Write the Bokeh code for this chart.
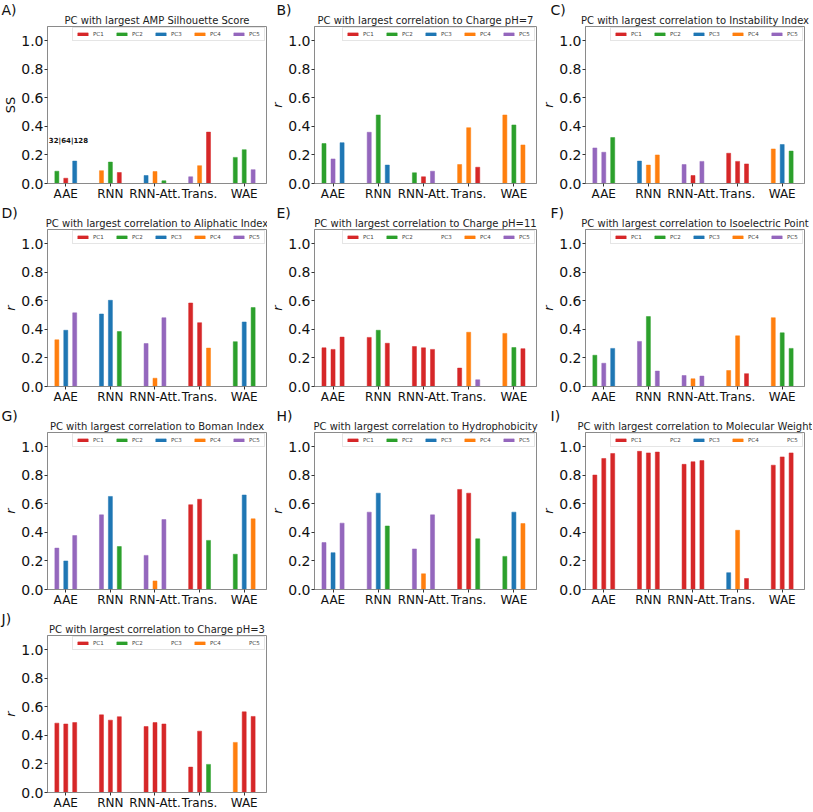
from bokeh.plotting import figure
from bokeh.layouts import column, row
from bokeh.models import (ColumnDataSource, Range1d, FixedTicker, Legend, LegendItem,
                          Label, Title, NumeralTickFormatter)
from bokeh.embed import file_html
from bokeh.resources import INLINE

# ---------------- data ----------------
models = ["AAE", "RNN", "RNN-Att.", "Trans.", "WAE"]
latent_dims = ["32", "64", "128"]
pc_names = ["PC1", "PC2", "PC3", "PC4", "PC5"]
pc_colors = ["#d62728", "#2ca02c", "#1f77b4", "#ff7f0e", "#9467bd"]
y_ticks = [0.0, 0.2, 0.4, 0.6, 0.8, 1.0]

panel_letters = ["A)", "B)", "C)", "D)", "E)", "F)", "G)", "H)", "I)", "J)"]
panel_titles = [
    "PC with largest AMP Silhouette Score",
    "PC with largest correlation to Charge pH=7",
    "PC with largest correlation to Instability Index",
    "PC with largest correlation to Aliphatic Index",
    "PC with largest correlation to Charge pH=11",
    "PC with largest correlation to Isoelectric Point",
    "PC with largest correlation to Boman Index",
    "PC with largest correlation to Hydrophobicity",
    "PC with largest correlation to Molecular Weight",
    "PC with largest correlation to Charge pH=3",
]
y_labels = ["SS", "r", "r", "r", "r", "r", "r", "r", "r", "r"]

# values ordered: AAE(32,64,128), RNN(...), RNN-Att.(...), Trans.(...), WAE(...)
ss_values = [0.086, 0.037, 0.157, 0.090, 0.150, 0.077, 0.056, 0.084, 0.019,
             0.047, 0.125, 0.360, 0.183, 0.237, 0.097]
ss_pc = [2, 1, 3, 4, 2, 1, 3, 4, 2, 5, 4, 1, 2, 2, 5]

charge7_values = [0.280, 0.172, 0.286, 0.359, 0.480, 0.129, 0.075, 0.047, 0.086,
                  0.133, 0.391, 0.114, 0.480, 0.410, 0.270]
charge7_pc = [2, 5, 3, 5, 2, 3, 2, 1, 5, 4, 4, 1, 4, 2, 4]

instab_values = [0.249, 0.219, 0.322, 0.157, 0.129, 0.200, 0.133, 0.056, 0.155,
                 0.212, 0.155, 0.137, 0.242, 0.273, 0.227]
instab_pc = [5, 5, 2, 3, 4, 4, 5, 1, 5, 1, 1, 1, 4, 3, 2]

aliph_values = [0.327, 0.394, 0.516, 0.508, 0.604, 0.385, 0.301, 0.058, 0.482,
                0.585, 0.447, 0.269, 0.314, 0.452, 0.553]
aliph_pc = [4, 3, 5, 3, 3, 2, 5, 4, 5, 1, 1, 4, 2, 3, 2]

charge11_values = [0.271, 0.260, 0.346, 0.344, 0.394, 0.303, 0.280, 0.271, 0.260,
                   0.129, 0.380, 0.047, 0.372, 0.273, 0.265]
charge11_pc = [1, 1, 1, 1, 2, 1, 1, 1, 1, 1, 4, 5, 4, 2, 1]

isoel_values = [0.219, 0.163, 0.267, 0.316, 0.490, 0.108, 0.077, 0.054, 0.073,
                0.112, 0.355, 0.090, 0.482, 0.376, 0.267]
isoel_pc = [2, 5, 3, 5, 2, 5, 5, 4, 5, 4, 4, 1, 4, 2, 2]

boman_values = [0.290, 0.200, 0.378, 0.523, 0.652, 0.301, 0.239, 0.060, 0.490,
                0.594, 0.632, 0.344, 0.247, 0.662, 0.495]
boman_pc = [5, 3, 5, 5, 3, 2, 5, 4, 5, 1, 1, 2, 2, 3, 4]

hydro_values = [0.329, 0.258, 0.465, 0.542, 0.675, 0.445, 0.284, 0.110, 0.523,
                0.701, 0.675, 0.355, 0.232, 0.542, 0.462]
hydro_pc = [5, 3, 5, 5, 3, 2, 5, 4, 5, 1, 1, 2, 2, 3, 4]

molw_values = [0.802, 0.918, 0.953, 0.968, 0.957, 0.963, 0.877, 0.895, 0.903,
               0.118, 0.415, 0.077, 0.871, 0.929, 0.957]
molw_pc = [1, 1, 1, 1, 1, 1, 1, 1, 1, 3, 4, 1, 1, 1, 1]

charge3_values = [0.486, 0.480, 0.490, 0.544, 0.507, 0.531, 0.462, 0.490, 0.480,
                  0.178, 0.430, 0.197, 0.351, 0.565, 0.533]
charge3_pc = [1, 1, 1, 1, 1, 1, 1, 1, 1, 1, 1, 2, 4, 1, 1]

panel_values = [ss_values, charge7_values, instab_values, aliph_values, charge11_values,
                isoel_values, boman_values, hydro_values, molw_values, charge3_values]
panel_pcs = [ss_pc, charge7_pc, instab_pc, aliph_pc, charge11_pc,
             isoel_pc, boman_pc, hydro_pc, molw_pc, charge3_pc]

# ---------------- layout / style ----------------
FONT = "DejaVu Sans"
dim_offset = {"32": -0.2, "64": 0.0, "128": 0.2}
col_width = [267, 271, 274]
col_border_right = [1, 2, 8]
col_letter_offset = [-46, -38, -35]
ROW_H = 203


def make_panel(i):
    col = i % 3
    vals = panel_values[i]
    pcs = panel_pcs[i]
    xs = [m + dim_offset[d] for m in range(len(models)) for d in latent_dims]

    p = figure(width=col_width[col], height=ROW_H,
               x_range=Range1d(-0.41, 4.5), y_range=Range1d(0, 1.1),
               output_backend="svg", toolbar_location=None,
               min_border_left=47, min_border_right=col_border_right[col],
               min_border_top=26, min_border_bottom=0)
    p.background_fill_color = "white"
    p.border_fill_color = "white"
    p.outline_line_color = "#8a8a8a"
    p.outline_line_width = 1
    p.xgrid.visible = False
    p.ygrid.visible = False

    # panel letter (outermost title, pulled down beside the main title)
    p.title.text = panel_letters[i]
    p.title.align = "left"
    p.title.offset = col_letter_offset[col]
    p.title.vertical_align = "bottom"
    p.title.standoff = -3.6
    p.title.text_font = FONT
    p.title.text_font_size = "14px"
    p.title.text_font_style = "normal"
    p.title.text_color = "#111111"

    # main title (next to the frame)
    p.add_layout(Title(text=panel_titles[i], align="center", vertical_align="top",
                       standoff=-3, text_font=FONT, text_font_size="10px",
                       text_font_style="normal", text_color="#222222"), "above")

    items = []
    for k, (name, color) in enumerate(zip(pc_names, pc_colors)):
        sel = [j for j in range(len(vals)) if pcs[j] == k + 1]
        src = ColumnDataSource(dict(x=[xs[j] for j in sel], top=[vals[j] for j in sel]))
        r = p.vbar(x="x", top="top", bottom=0, width=0.09, source=src,
                   fill_color=color, line_color=color, line_width=0.5)
        items.append(LegendItem(label=name, renderers=[r]))

    legend = Legend(items=items, orientation="horizontal", location="top_right",
                    margin=1, padding=3, spacing=10,
                    glyph_width=13, glyph_height=4, label_standoff=4,
                    label_width=12, label_height=5,
                    label_text_font=FONT, label_text_font_size="5.5px",
                    label_text_color="#444444",
                    border_line_color="#cccccc", border_line_width=0.8,
                    background_fill_color="white", background_fill_alpha=0.8)
    p.add_layout(legend)

    # axes
    xa = p.xaxis[0]
    xa.ticker = FixedTicker(ticks=list(range(len(models))))
    xa.major_label_overrides = {m: name for m, name in enumerate(models)}
    xa.major_label_text_font_size = "12px"
    xa.major_label_standoff = 0
    ya = p.yaxis[0]
    ya.ticker = FixedTicker(ticks=y_ticks)
    ya.formatter = NumeralTickFormatter(format="0.0")
    ya.major_label_text_font_size = "14px"
    ya.major_label_standoff = 1
    ya.axis_label = y_labels[i]
    ya.axis_label_text_font = FONT
    ya.axis_label_text_font_size = "13px"
    ya.axis_label_text_font_style = "italic" if y_labels[i] == "r" else "normal"
    ya.axis_label_text_color = "#111111"
    ya.axis_label_standoff = 0
    for ax in (xa, ya):
        ax.major_label_text_font = FONT
        ax.major_label_text_color = "#111111"
        ax.major_tick_out = 3
        ax.major_tick_in = 0
        ax.major_tick_line_color = "#333333"
        ax.minor_tick_line_color = None
        ax.axis_line_color = "#8a8a8a"

    if i == 0:
        p.add_layout(Label(x=-0.38, y=0.3, text="|".join(latent_dims),
                           text_font=FONT, text_font_size="7px",
                           text_font_style="bold", text_color="#111111",
                           text_baseline="middle", text_align="left"))
    return p


panels = [make_panel(i) for i in range(len(panel_titles))]
layout = column(row(*panels[0:3]), row(*panels[3:6]), row(*panels[6:9]), row(panels[9]))

with open("out.html", "w") as f:
    f.write(file_html(layout, INLINE))
